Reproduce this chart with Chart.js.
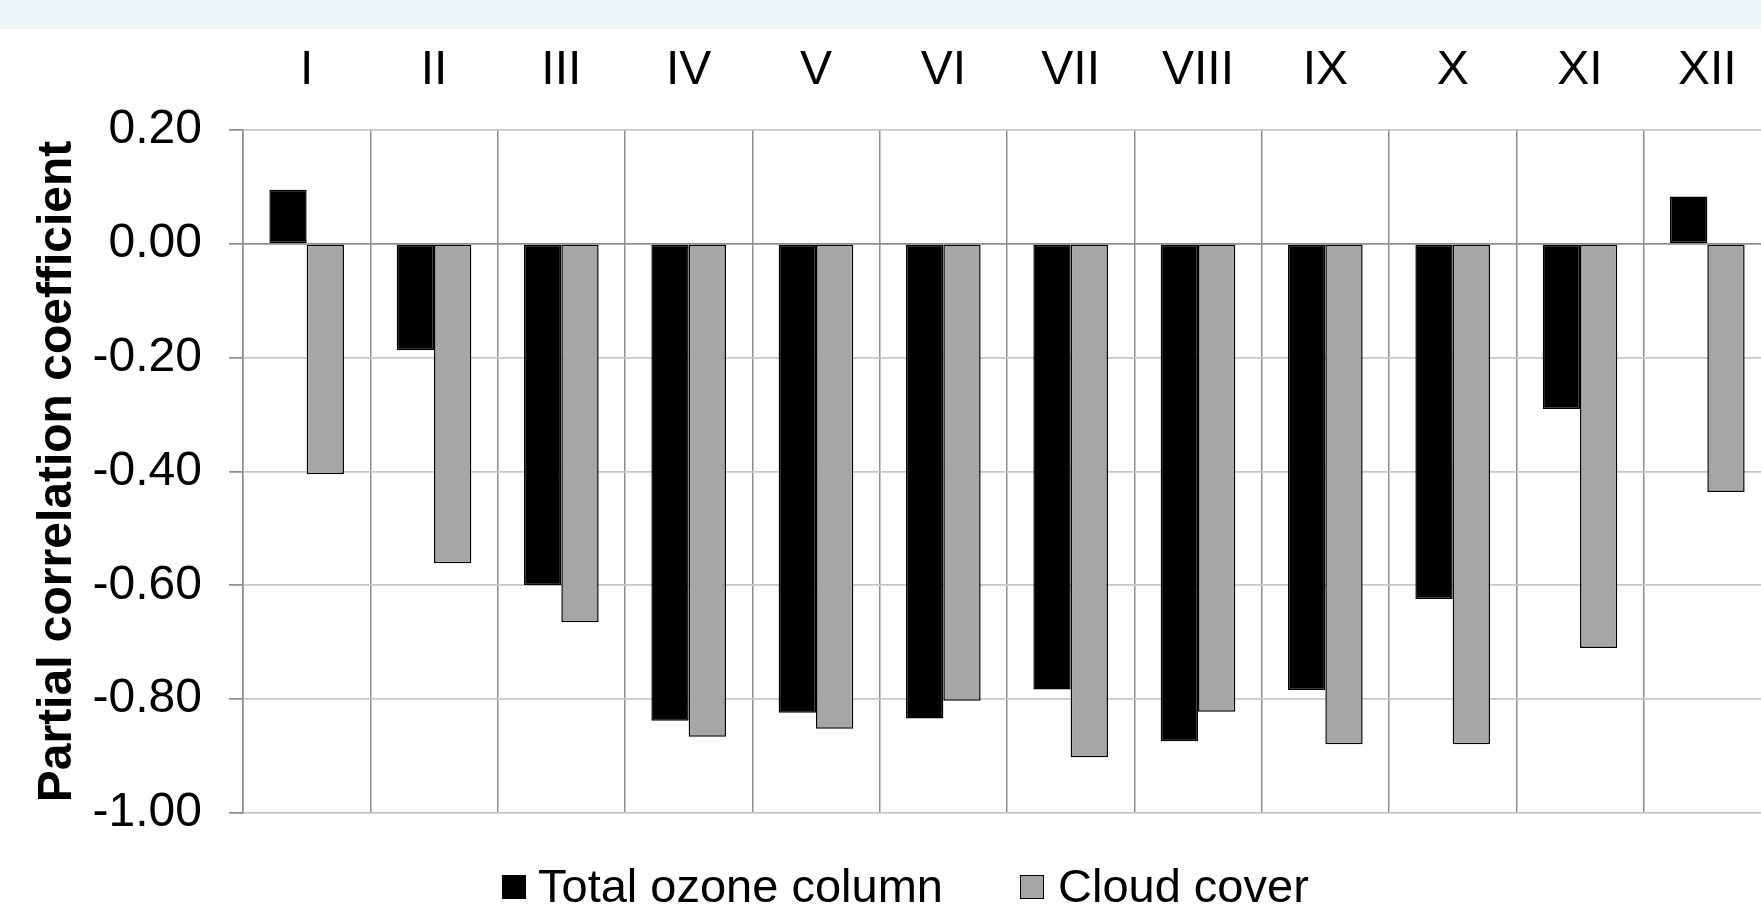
<!DOCTYPE html>
<html>
<head>
<meta charset="utf-8">
<script src="https://cdn.jsdelivr.net/npm/chart.js@4/dist/chart.umd.min.js"></script>
<style>
  html, body { margin: 0; padding: 0; background: #ffffff; overflow: hidden; width: 1761px; height: 908px; }
  #band { position: absolute; left: 0; top: 0; width: 1761px; height: 29px; background: #eef6f8; }
  #wrap { position: absolute; left: 0; top: 0; width: 1771px; height: 908px; }
  #legend { position: absolute; left: 0; top: 0; width: 1761px; height: 908px; pointer-events: none;
            font-family: 'Liberation Sans', Arial, sans-serif; font-size: 47px; color: #000; white-space: nowrap; }
  #legend .box { position: absolute; top: 875px; width: 24px; height: 24px; box-sizing: border-box; border: 1.5px solid #000; }
  #legend .txt { position: absolute; top: 858px; line-height: normal; }
</style>
</head>
<body>
<div id="band"></div>
<div id="wrap"><canvas id="c"></canvas></div>
<div id="legend"></div>
<script>
const months = ['I','II','III','IV','V','VI','VII','VIII','IX','X','XI','XII'];
const seriesNames = ['Total ozone column', 'Cloud cover'];
const ozone = [0.095, -0.187, -0.600, -0.838, -0.824, -0.834, -0.783, -0.874, -0.784, -0.624, -0.290, 0.083];
const cloud = [-0.405, -0.561, -0.665, -0.866, -0.852, -0.803, -0.902, -0.822, -0.879, -0.879, -0.710, -0.436];
const yTickValues = [-1.0, -0.8, -0.6, -0.4, -0.2, 0.0, 0.2];
const yTitle = 'Partial correlation coefficient';
const fillColors = ['#000000', '#a6a6a6'];

const FONT = "'Liberation Sans', Arial, sans-serif";

const chart = new Chart(document.getElementById('c'), {
  type: 'bar',
  data: {
    labels: months,
    datasets: [
      { label: seriesNames[0], data: ozone, backgroundColor: fillColors[0], borderColor: '#000', borderWidth: 1.5, borderSkipped: false },
      { label: seriesNames[1], data: cloud, backgroundColor: fillColors[1], borderColor: '#000', borderWidth: 1.5, borderSkipped: false }
    ]
  },
  options: {
    responsive: true,
    maintainAspectRatio: false,
    animation: false,
    devicePixelRatio: 1,
    layout: { padding: { left: 0, right: 0, top: 0, bottom: 95 } },
    datasets: { bar: { categoryPercentage: 0.586, barPercentage: 1.0 } },
    plugins: { legend: { display: false }, tooltip: { enabled: false } },
    scales: {
      x: {
        position: 'top',
        offset: true,
        grid: { display: true, offset: true, color: '#8e8e8e', lineWidth: 1.5, drawTicks: false },
        border: { display: false },
        ticks: { color: '#000', font: { family: FONT, size: 48 }, padding: 30, maxRotation: 0, autoSkip: false },
        afterFit: (s) => { s.height = 130; }
      },
      y: {
        min: -1.0,
        max: 0.2,
        afterBuildTicks: (s) => { s.ticks = yTickValues.map(v => ({ value: v })); },
        grid: {
          color: (ctx) => (ctx.tick && Math.abs(ctx.tick.value) < 1e-9) ? '#8e8e8e' : '#c8c8c8',
          lineWidth: 1.75,
          drawTicks: true,
          tickLength: 14,
          tickColor: '#8e8e8e'
        },
        border: { display: true, color: '#8e8e8e', width: 1.5 },
        ticks: {
          color: '#000',
          font: { family: FONT, size: 48 },
          padding: 27,
          callback: (v) => (Math.abs(v) < 1e-9 ? 0 : v).toFixed(2)
        },
        title: {
          display: true,
          text: yTitle,
          color: '#000',
          font: { family: FONT, size: 48, weight: 'bold' },
          padding: { top: 29, bottom: 0 }
        },
        afterFit: (s) => { s.width = 243; }
      }
    }
  }
});

// HTML legend built from the datasets
const leg = document.getElementById('legend');
const boxLefts = [502, 1020];
const gap = [12, 14];
chart.data.datasets.forEach((ds, i) => {
  const b = document.createElement('span');
  b.className = 'box';
  b.style.background = ds.backgroundColor;
  b.style.left = boxLefts[i] + 'px';
  const t = document.createElement('span');
  t.className = 'txt';
  t.textContent = ds.label;
  t.style.left = (boxLefts[i] + 24 + gap[i]) + 'px';
  leg.appendChild(b);
  leg.appendChild(t);
});
</script>
</body>
</html>
